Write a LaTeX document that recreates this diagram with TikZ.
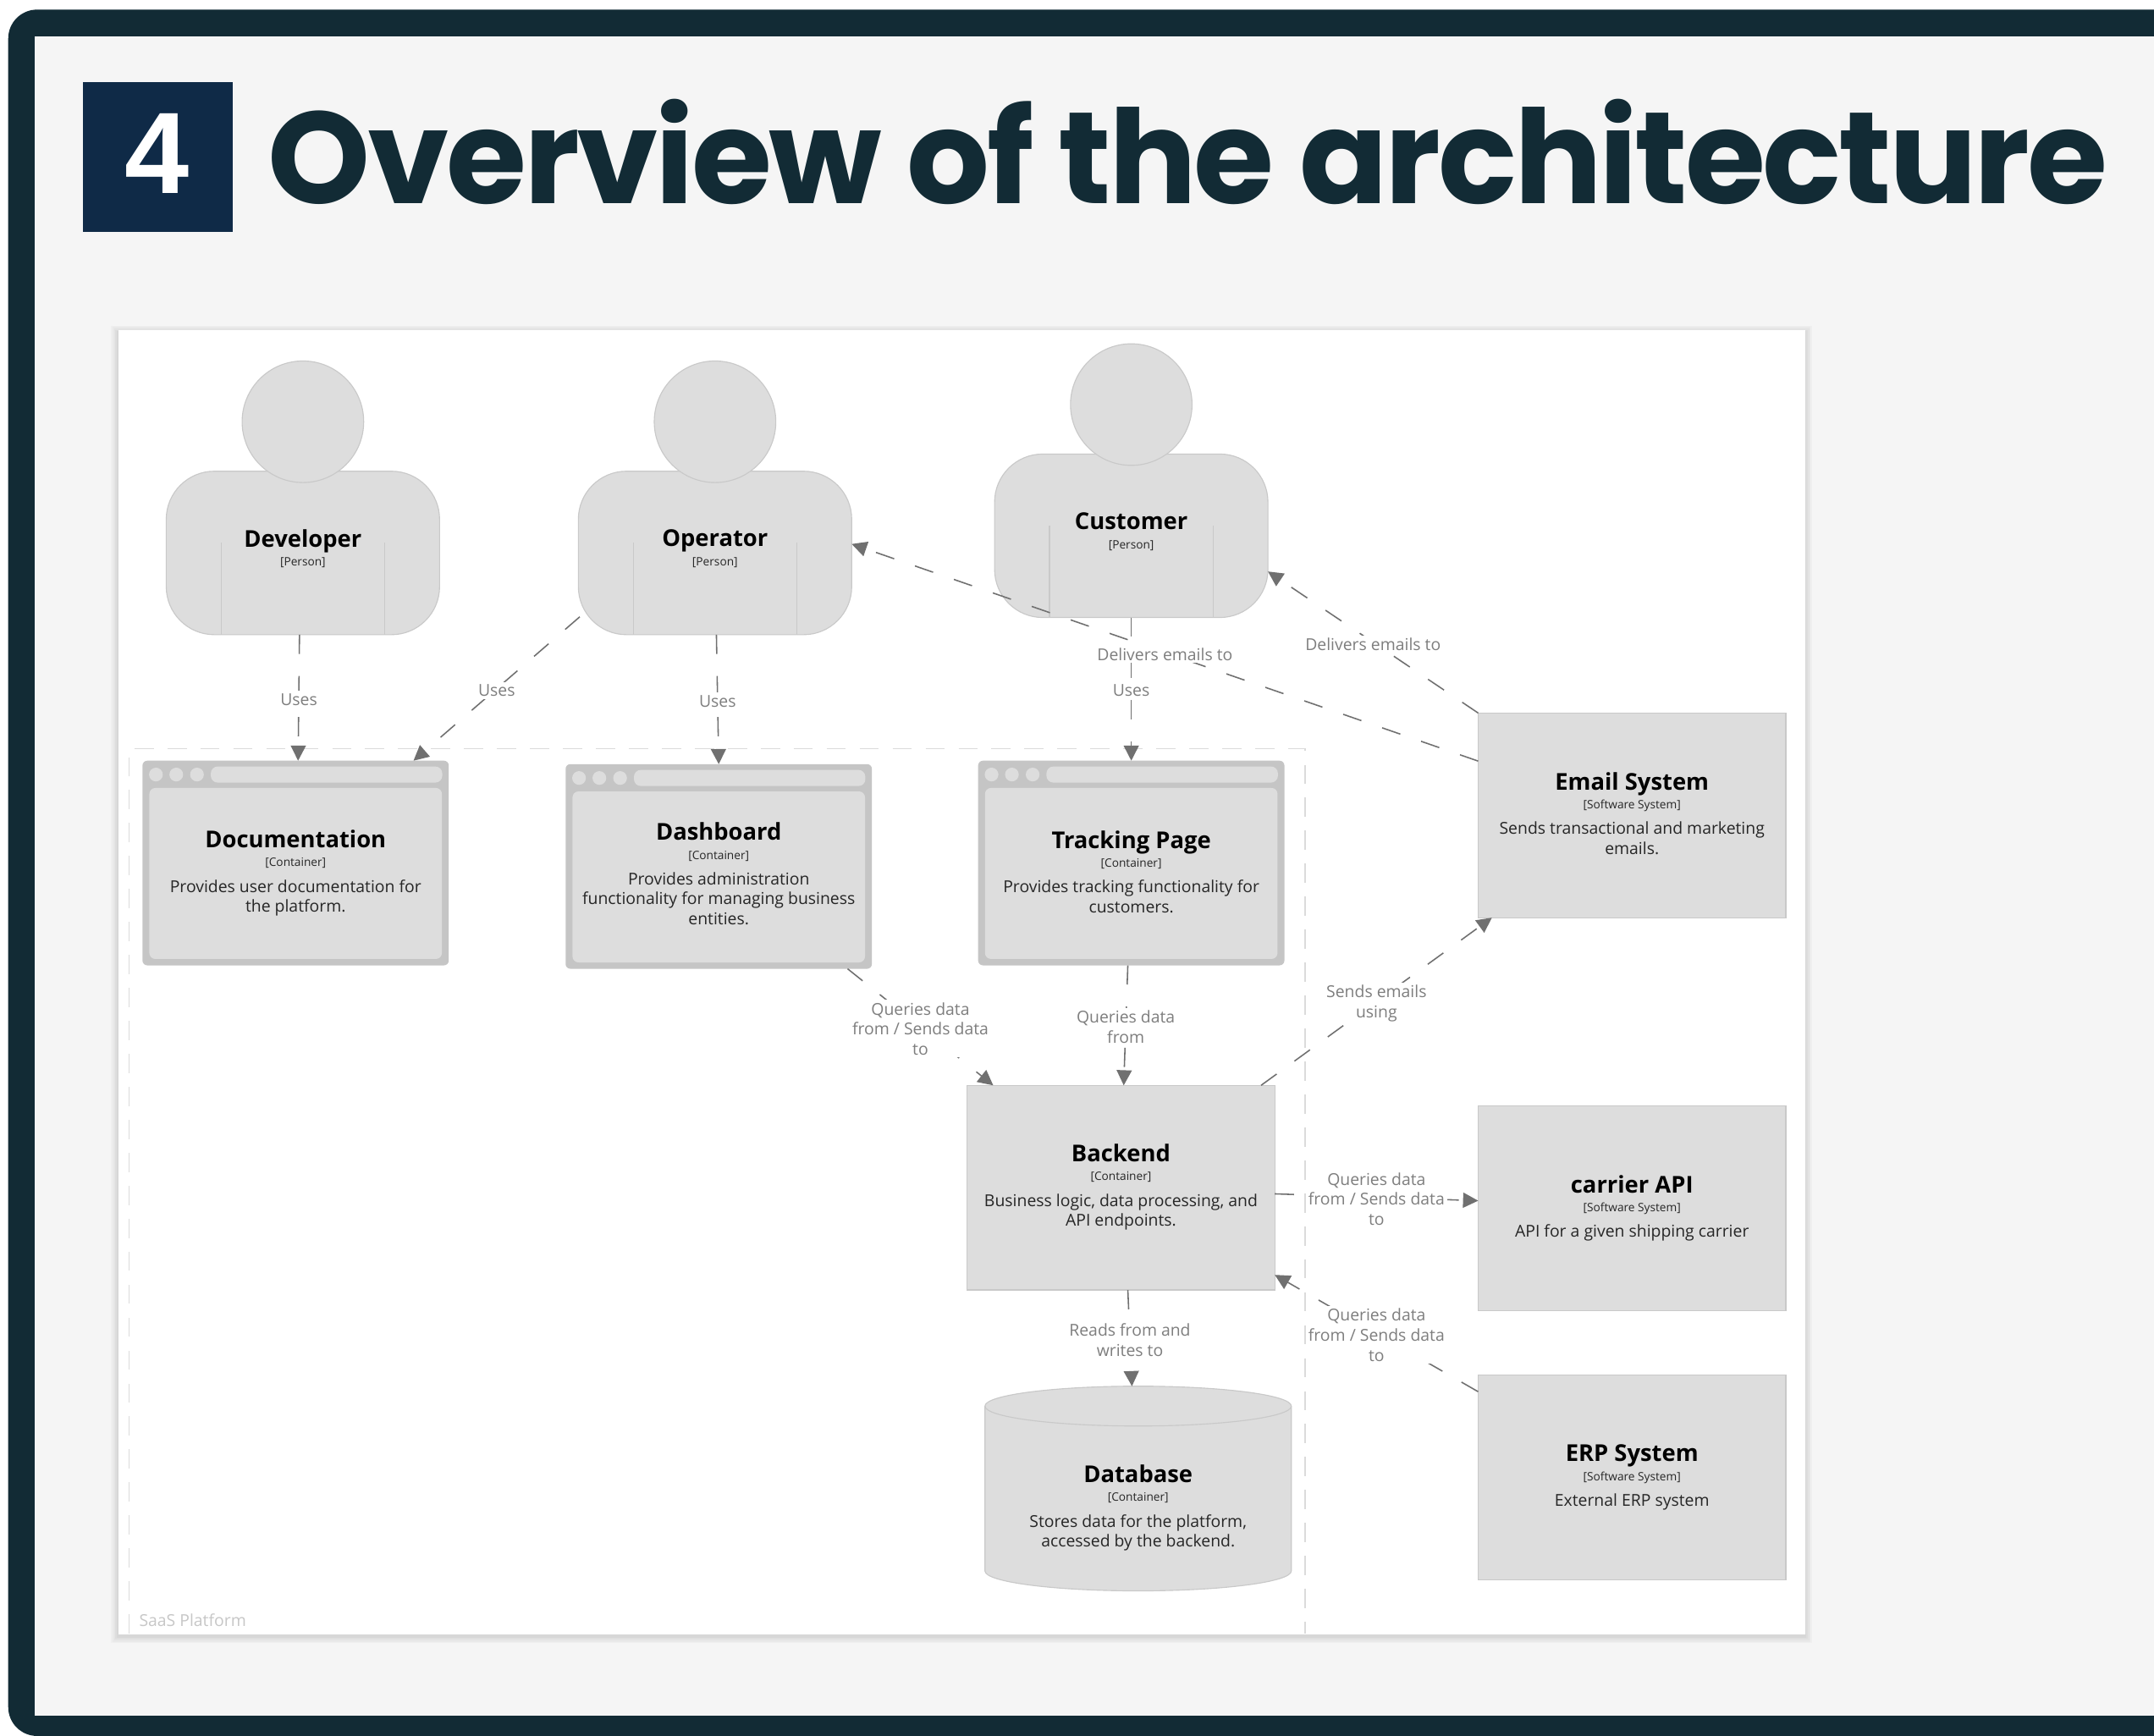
\documentclass[tikz,border=0pt]{standalone}
\usepackage{fontspec}
\usepackage{xcolor}
\setmainfont{Open Sans}
\newfontfamily\headfont[LetterSpace=-2.1]{Poppins}
\newfontfamily\numfont{Liberation Sans}
\usetikzlibrary{arrows.meta}
\definecolor{framecol}{HTML}{122B35}
\definecolor{numcol}{HTML}{0F2A47}
\definecolor{pagecol}{HTML}{F5F5F5}
\definecolor{shapecol}{HTML}{DDDDDD}
\definecolor{edgecol}{HTML}{C9C9C9}
\definecolor{chromecol}{HTML}{C5C5C5}
\definecolor{relcol}{HTML}{707070}
\newcommand{\boxtitle}[1]{{\fontsize{9.6}{12}\selectfont\bfseries\color{black} #1}}
\newcommand{\boxtype}[1]{{\fontsize{4.8}{6}\selectfont [#1]}}
\tikzset{>={Triangle[length=.22cm,width=.22cm]}}

\begin{document}
\begin{tikzpicture}[x=.02cm,y=-.02cm,
                    persbody/.style={draw=edgecol, fill=shapecol, rounded corners=.7cm, outer sep=0pt, minimum width=3.98cm, minimum height=2.38cm},
                    pershead/.style={draw=edgecol, fill=shapecol, circle, inner sep=0pt, minimum size=1.77cm},
                    persline/.style={edgecol},
                    sysbox/.style={draw=edgecol, fill=shapecol, outer sep=0pt, minimum width=4.48cm, minimum height=2.98cm},
                    browser/.style={fill=chromecol, rounded corners=2pt, outer sep=0pt, minimum width=4.46cm, minimum height=2.98cm},
                    browserpane/.style={fill=shapecol, rounded corners=2.5pt, minimum width=4.26cm, minimum height=2.49cm},
                    browserbar/.style={fill=shapecol, rounded corners=.1cm, minimum width=3.37cm, minimum height=.2cm},
                    browserdot/.style={fill=shapecol, circle, inner sep=0pt, minimum size=.2cm},
                    boxtext/.style={align=center, font=\fontsize{6.8}{8.2}\selectfont, text=black!85},
                    rel/.style={relcol, line width=.55pt, dash pattern=on .28cm off .32cm, ->},
                    rellabel/.style={fill=white, inner sep=1pt, yshift=-.025cm, align=center, text=relcol!90, font=\fontsize{6.8}{8.3}\selectfont},
                   ]

\useasboundingbox (0,0) rectangle (1568,1263.6);

% slide frame
\fill[white] (0,0) rectangle (1568,1263.6);
\fill[framecol, rounded corners=.42cm] (1568,7) -- (6,7) -- (6,1263.6) -- (1568,1263.6);
\fill[pagecol] (25.5,26.5) rectangle (1568,1249);

% heading
\node[fill=numcol, minimum size=2.18cm, inner sep=0pt] (number) at (115,114.5) {};
\node[text=white, inner sep=0pt, font=\numfont\bfseries\fontsize{48}{48}\selectfont] (numbertext) at (114.5,112) {4};
\node[anchor=base west, inner sep=0pt, text=framecol, font=\headfont\bfseries\fontsize{54}{54}\selectfont] (heading) at (194.5,148) {Overview of the architecture};

% white sheet
\foreach \s in {1,2,3,4,5}{
  \fill[black, opacity=.025] (86-\s,240-\s+2) rectangle (1314+\s,1190+\s+1);
}
\fill[white] (86,240) rectangle (1314,1190);

% platform boundary
\draw[black!14, dash pattern=on .28cm off .2cm] (94,1189) -- (94,545) -- (950,545) -- (950,1189);
\node[anchor=west, inner sep=0pt, text=black!22, font=\fontsize{6.8}{8.2}\selectfont] (platform) at (101,1179.5) {SaaS Platform};

% people
\foreach \px/\py/\pname/\ptitle in {220.5/402.5/developer/Developer, 520.5/402.5/operator/Operator, 823.5/390/customer/Customer}{
  \node[persbody] (\pname) at (\px,\py) {};
  \node[pershead] (\pname head) at (\px,\py-95.5) {};
  \draw[persline] (\px-59.5,\py-7.5) -- (\px-59.5,\py+59.5);
  \draw[persline] (\px+59.5,\py-7.5) -- (\px+59.5,\py+59.5);
  \node[boxtext] (\pname text) at (\px,\py-3.2) {\boxtitle{\ptitle}\\[-.2pt]\boxtype{Person}};
}

% browser containers
\foreach \bx/\by/\bname in {215.2/628.2/documentation, 523.2/630.7/dashboard, 823.5/628.2/tracking}{
  \node[browser] (\bname) at (\bx,\by) {};
  \node[browserpane] (\bname pane) at (\bx,\by+7.6) {};
  \node[browserbar] (\bname bar) at (\bx+22.5,\by-64.4) {};
  \foreach \d/\dn in {-101.7/a,-86.9/b,-71.8/c}{
    \node[browserdot] (\bname dot\dn) at (\bx+\d,\by-64.4) {};
  }
}
\node[boxtext] (documentationtext) at (215.2,635.5) {\boxtitle{Documentation}\\[-.4pt]\boxtype{Container}\\[2.5pt]Provides user documentation for\\the platform.};
\node[boxtext] (dashboardtext) at (523.2,636) {\boxtitle{Dashboard}\\[-.4pt]\boxtype{Container}\\[2.5pt]Provides administration\\functionality for managing business\\entities.};
\node[boxtext] (trackingtext) at (823.5,634.5) {\boxtitle{Tracking Page}\\[-.4pt]\boxtype{Container}\\[2.5pt]Provides tracking functionality for\\customers.};

% backend
\node[sysbox] (backend) at (816,864.5) {};
\node[boxtext] (backendtext) at (816,864) {\boxtitle{Backend}\\[-.4pt]\boxtype{Container}\\[2.5pt]Business logic, data processing, and\\API endpoints.};

% database
\path[draw=edgecol, fill=shapecol] (717,1023.5) arc[start angle=180, end angle=360, x radius=111.5, y radius=14.5] -- (940,1143.5) arc[start angle=0, end angle=180, x radius=111.5, y radius=14.5] -- cycle;
\draw[edgecol] (717,1023.5) arc[start angle=180, end angle=0, x radius=111.5, y radius=14.5];
\coordinate (databasetop) at (824,1009);
\node[boxtext] (databasetext) at (828.5,1097.5) {\boxtitle{Database}\\[-.4pt]\boxtype{Container}\\[2.5pt]Stores data for the platform,\\accessed by the backend.};

% external systems
\node[sysbox] (email) at (1188,593.5) {};
\node[boxtext] (emailtext) at (1188,592) {\boxtitle{Email System}\\[-.4pt]\boxtype{Software System}\\[2.5pt]Sends transactional and marketing\\emails.};
\node[sysbox] (carrier) at (1188,879.5) {};
\node[boxtext] (carriertext) at (1188,879.5) {\boxtitle{carrier API}\\[-.4pt]\boxtype{Software System}\\[2.5pt]API for a given shipping carrier};
\node[sysbox] (erp) at (1188,1075.5) {};
\node[boxtext] (erptext) at (1188,1075.5) {\boxtitle{ERP System}\\[-.4pt]\boxtype{Software System}\\[2.5pt]External ERP system};

% relations
\draw[rel] ([shift={(-2.5,0)}]developer.south) -- node[rellabel]{Uses} ([shift={(1.8,0)}]documentation.north);
\draw[rel] ([shift={(1,46.5)}]operator.west) -- node[rellabel]{Uses} ([shift={(85.8,0)}]documentation.north);
\draw[rel] ([shift={(1,0)}]operator.south) -- node[rellabel]{Uses} (dashboard.north);
\draw[rel] (customer.south) -- node[rellabel]{Uses} (tracking.north);
\draw[rel] ([shift={(0,-39.5)}]email.west) -- node[rellabel]{Delivers emails to} ([shift={(0,-6.5)}]operator.east);
\draw[rel] (email.north west) -- node[rellabel]{Delivers emails to} ([shift={(0,26)}]customer.east);
\draw[rel] ([shift={(93.8,0)}]dashboard.south) -- node[rellabel]{Queries data\\from / Sends data\\to} ([shift={(-93,0)}]backend.north);
\draw[rel] ([shift={(-2.5,0)}]tracking.south) -- node[rellabel]{Queries data\\from} ([shift={(2,0)}]backend.north);
\draw[rel] ([shift={(102,0)}]backend.north) -- node[rellabel]{Sends emails\\using} ([shift={(10,0)}]email.south west);
\draw[rel] ([shift={(0,4.5)}]backend.east) -- node[rellabel]{Queries data\\from / Sends data\\to} ([shift={(0,-5.5)}]carrier.west);
\draw[rel] ([shift={(0,12)}]erp.north west) -- node[rellabel]{Queries data\\from / Sends data\\to} ([shift={(0,-11)}]backend.south east);
\draw[rel] ([shift={(5,0)}]backend.south) -- node[rellabel]{Reads from and\\writes to} (databasetop);

\end{tikzpicture}
\end{document}
